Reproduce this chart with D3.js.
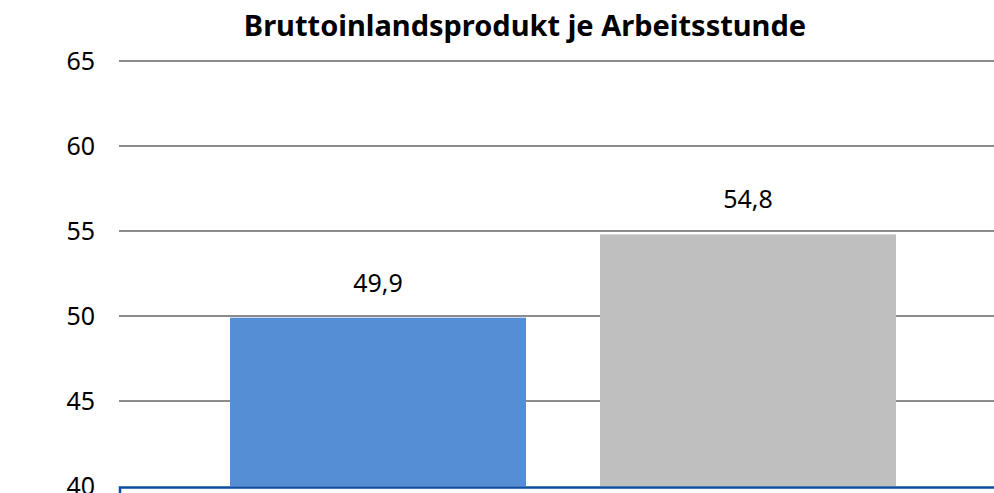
<!DOCTYPE html>
<html>
<head>
<meta charset="utf-8">
<script src="https://cdn.jsdelivr.net/npm/d3@7.9.0/dist/d3.min.js"></script>
<style>
  html, body { margin: 0; padding: 0; background: #fff; overflow: hidden; }
  svg { display: block; font-family: 'Noto Sans', 'Open Sans', sans-serif; }
</style>
</head>
<body>
<div id="chart"></div>
<script>
const categories = ['A', 'B'];
const values = [49.9, 54.8];
const labels = ['49,9', '54,8'];
const yTicks = [40, 45, 50, 55, 60, 65];
const barColors = ['#558ed5', '#bfbfbf'];

const width = 994;
const height = 493;

const svg = d3.select('#chart')
  .append('svg')
  .attr('width', width)
  .attr('height', height);

const yScale = d3.scaleLinear().domain([40, 65]).range([486, 61]);
const xScale = d3.scaleBand()
  .domain(categories)
  .range([119, 1007])
  .paddingInner(0.2)
  .paddingOuter(0.3);

// gridlines
svg.append('g')
  .selectAll('line')
  .data(yTicks.filter(d => d > 40))
  .join('line')
  .attr('x1', 119)
  .attr('x2', width)
  .attr('y1', d => yScale(d))
  .attr('y2', d => yScale(d))
  .attr('stroke', '#8c8c8c')
  .attr('stroke-width', 2);

// y labels
svg.append('g')
  .selectAll('text')
  .data(yTicks)
  .join('text')
  .attr('x', 95)
  .attr('y', d => yScale(d))
  .attr('dy', '0.36em')
  .attr('text-anchor', 'end')
  .attr('font-size', 25)
  .attr('fill', '#000')
  .text(d => d);

// bars
svg.append('g')
  .selectAll('rect')
  .data(values)
  .join('rect')
  .attr('x', (d, i) => xScale(categories[i]))
  .attr('y', d => yScale(d))
  .attr('width', xScale.bandwidth())
  .attr('height', d => yScale(40) - yScale(d))
  .attr('fill', (d, i) => barColors[i]);

// value labels
svg.append('g')
  .selectAll('text')
  .data(values)
  .join('text')
  .attr('x', (d, i) => xScale(categories[i]) + xScale.bandwidth() / 2)
  .attr('y', d => yScale(d) - 26)
  .attr('text-anchor', 'middle')
  .attr('font-size', 25)
  .attr('fill', '#000')
  .text((d, i) => labels[i]);

// x axis line
svg.append('path')
  .attr('d', `M120,${height}V${yScale(40) + 1.5}H${width}`)
  .attr('fill', 'none')
  .attr('stroke', '#0b4ea2')
  .attr('stroke-width', 2.5);

// title
svg.append('text')
  .attr('x', 525)
  .attr('y', 36)
  .attr('text-anchor', 'middle')
  .attr('font-size', 29)
  .attr('font-weight', 'bold')
  .attr('fill', '#000')
  .text('Bruttoinlandsprodukt je Arbeitsstunde');
</script>
</body>
</html>
